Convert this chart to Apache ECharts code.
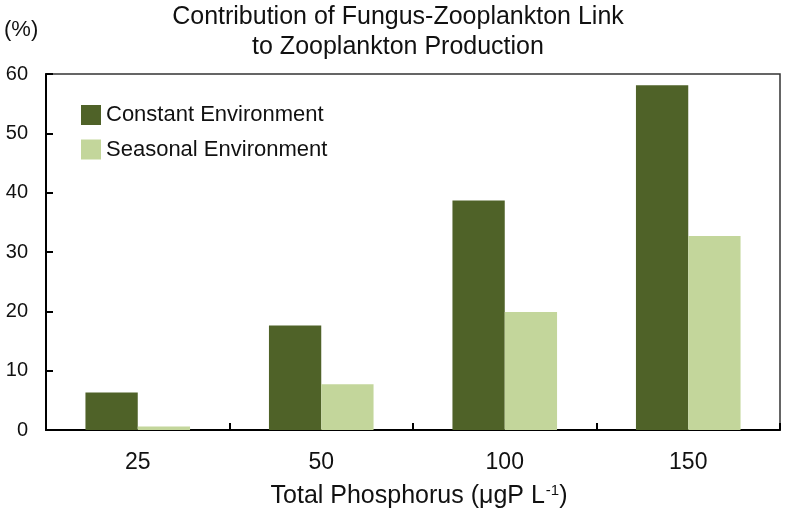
<!DOCTYPE html>
<html>
<head>
<meta charset="utf-8">
<script src="https://cdn.jsdelivr.net/npm/echarts@6/dist/echarts.min.js"></script>
<style>html,body{margin:0;padding:0;background:#fff}#c{width:787px;height:510px}</style>
</head>
<body>
<div id="c"></div>
<script>
const categories = ['25', '50', '100', '150'];
const constantEnv = [6.3, 17.6, 38.7, 58.1];
const seasonalEnv = [0.6, 7.7, 19.9, 32.7];
const yTicks = { min: 0, max: 60, interval: 10 };

const font = '"Liberation Sans", Arial, sans-serif';
const chart = echarts.init(document.getElementById('c'), null, { renderer: 'canvas' });
chart.setOption({
  animation: false,
  backgroundColor: '#fff',
  title: {
    text: 'Contribution of Fungus-Zooplankton Link\nto Zooplankton Production',
    left: 398, top: 2, padding: 0, textAlign: 'center',
    textStyle: { fontFamily: font, fontSize: 25, fontWeight: 'normal', color: '#111', lineHeight: 30 }
  },
  graphic: [{
    type: 'text', left: 4, top: 19,
    style: { text: '(%)', font: '22px ' + font, fill: '#111' }
  }],
  legend: {
    orient: 'vertical', left: 81, top: 104, padding: 0,
    itemWidth: 20, itemHeight: 20, itemGap: 12.5,
    icon: 'rect',
    textStyle: { fontFamily: font, fontSize: 22, color: '#111', lineHeight: 20, padding: [0, 0, 0, 0] },
    data: ['Constant Environment', 'Seasonal Environment']
  },
  grid: { left: 46, right: 7, top: 74, bottom: 80, show: true, borderColor: '#333', borderWidth: 1.5,
    outerBoundsMode: 'none', containLabel: false },
  xAxis: {
    type: 'category', data: categories,
    axisLine: { lineStyle: { color: '#000', width: 2 } },
    axisTick: { show: true, inside: true, length: 7, lineStyle: { color: '#000', width: 2 } },
    axisLabel: { fontFamily: font, fontSize: 23, color: '#111', margin: 21 },
    name: '{n|Total Phosphorus (μgP L}{s|-1}{n|)}',
    nameLocation: 'middle', nameGap: 53,
    nameTextStyle: {
      padding: [0, 0, 0, 12],
      rich: {
        n: { fontFamily: font, fontSize: 25, color: '#111', lineHeight: 26 },
        s: { fontFamily: font, fontSize: 15, color: '#111', verticalAlign: 'top', padding: [0, 0, 8, 1], lineHeight: 26 }
      }
    }
  },
  yAxis: {
    type: 'value', min: yTicks.min, max: yTicks.max, interval: yTicks.interval,
    splitLine: { show: false },
    axisLine: { show: true, lineStyle: { color: '#000', width: 2 } },
    axisTick: { show: true, inside: true, length: 7, lineStyle: { color: '#000', width: 2 } },
    axisLabel: { fontFamily: font, fontSize: 20, color: '#111', margin: 18 }
  },
  series: [
    { name: 'Constant Environment', type: 'bar', data: constantEnv, barGap: '0%', barCategoryGap: '43%',
      itemStyle: { color: '#4f6228' } },
    { name: 'Seasonal Environment', type: 'bar', data: seasonalEnv,
      itemStyle: { color: '#c3d69b' } }
  ]
});
</script>
</body>
</html>
